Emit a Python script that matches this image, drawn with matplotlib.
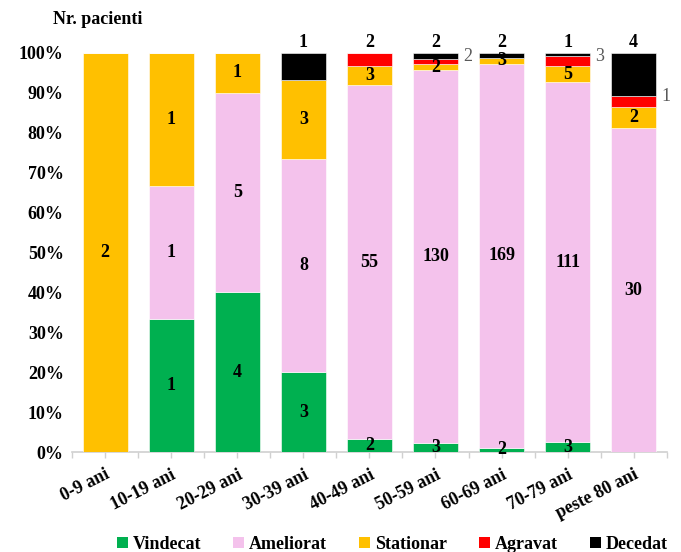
import matplotlib
matplotlib.use("Agg")
import matplotlib.pyplot as plt
from matplotlib.patches import Patch
import numpy as np

plt.rcParams['font.family'] = ['Liberation Serif', 'DejaVu Serif']

categories = ["0-9 ani", "10-19 ani", "20-29 ani", "30-39 ani", "40-49 ani",
              "50-59 ani", "60-69 ani", "70-79 ani", "peste 80 ani"]
series_names = ["Vindecat", "Ameliorat", "Stationar", "Agravat", "Decedat"]
vindecat = [0, 1, 4, 3, 2, 3, 2, 3, 0]
ameliorat = [0, 1, 5, 8, 55, 130, 169, 111, 30]
stationar = [2, 1, 1, 3, 3, 2, 3, 5, 2]
agravat = [0, 0, 0, 0, 2, 2, 0, 3, 1]
decedat = [0, 0, 0, 1, 0, 2, 2, 1, 4]
colors = ["#00B050", "#F4C2EC", "#FFC000", "#FF0000", "#000000"]

counts = np.array([vindecat, ameliorat, stationar, agravat, decedat], dtype=float)
totals = counts.sum(axis=0)
shares = counts / totals

FS = 13

fig = plt.figure(figsize=(6.81, 5.52), dpi=100)
ax = fig.add_axes([0.106, 0.181, 0.873, 0.723])

x = np.arange(len(categories))
width = 0.68
bottom = np.zeros(len(categories))
for s in range(len(series_names)):
    ax.bar(x, shares[s], width, bottom=bottom, color=colors[s],
           edgecolor="white", linewidth=0.4, label=series_names[s], zorder=3)
    for i in range(len(categories)):
        n = int(counts[s, i])
        if n == 0:
            bottom[i] += shares[s, i]
            continue
        top = bottom[i] + shares[s, i]
        center = bottom[i] + shares[s, i] / 2
        is_top = np.isclose(top, 1.0) and s >= 3
        if is_top:
            # topmost small segment: count goes above the bar
            ax.text(x[i], 1.005, str(n), ha="center", va="bottom",
                    fontsize=FS, fontweight="bold", color="black", zorder=4)
        elif s == 3:
            # inner Agravat segments: count to the right of the bar
            ax.text(x[i] + width / 2 + 0.08, center + 0.012, str(n),
                    ha="left", va="center", fontsize=FS, color="#595959", zorder=4)
        else:
            ax.text(x[i], center, str(n), ha="center", va="center",
                    fontsize=FS, fontweight="bold", color="black", zorder=4)
        bottom[i] = top

ax.set_xlim(-0.5, len(categories) - 0.5)
ax.set_ylim(0, 1.0)
ax.set_yticks(np.arange(0, 1.01, 0.1))
ax.set_yticklabels([f"{int(round(v * 100))}%" for v in np.arange(0, 1.01, 0.1)],
                   fontsize=FS, fontweight="bold")
ax.set_xticks(x)
ax.set_xticklabels(categories, rotation=27, ha="right", rotation_mode="anchor",
                   fontsize=FS, fontweight="bold")
ax.set_xticks(np.arange(-0.5, len(categories), 1.0), minor=True)
ax.tick_params(axis="x", which="major", length=4, color="#D0D0D0", width=1, pad=6)
ax.tick_params(axis="x", which="minor", length=4, color="#D0D0D0", width=1)
ax.tick_params(axis="y", length=0, pad=6)
for side in ["top", "right", "left"]:
    ax.spines[side].set_visible(False)
ax.spines["bottom"].set_color("#D0D0D0")
ax.spines["bottom"].set_linewidth(1.2)

fig.text(0.144, 0.965, "Nr. pacienti", ha="center", va="center",
         fontsize=FS, fontweight="bold")

handles = [Patch(facecolor=c, edgecolor="none") for c in colors]
fig.legend(handles, series_names, loc="center", bbox_to_anchor=(0.576, 0.014),
           ncol=5, frameon=False, handlelength=0.6, handleheight=0.6,
           handletextpad=0.25, columnspacing=1.8,
           prop={"weight": "bold", "size": FS})

fig.savefig("out.png", dpi=100)
